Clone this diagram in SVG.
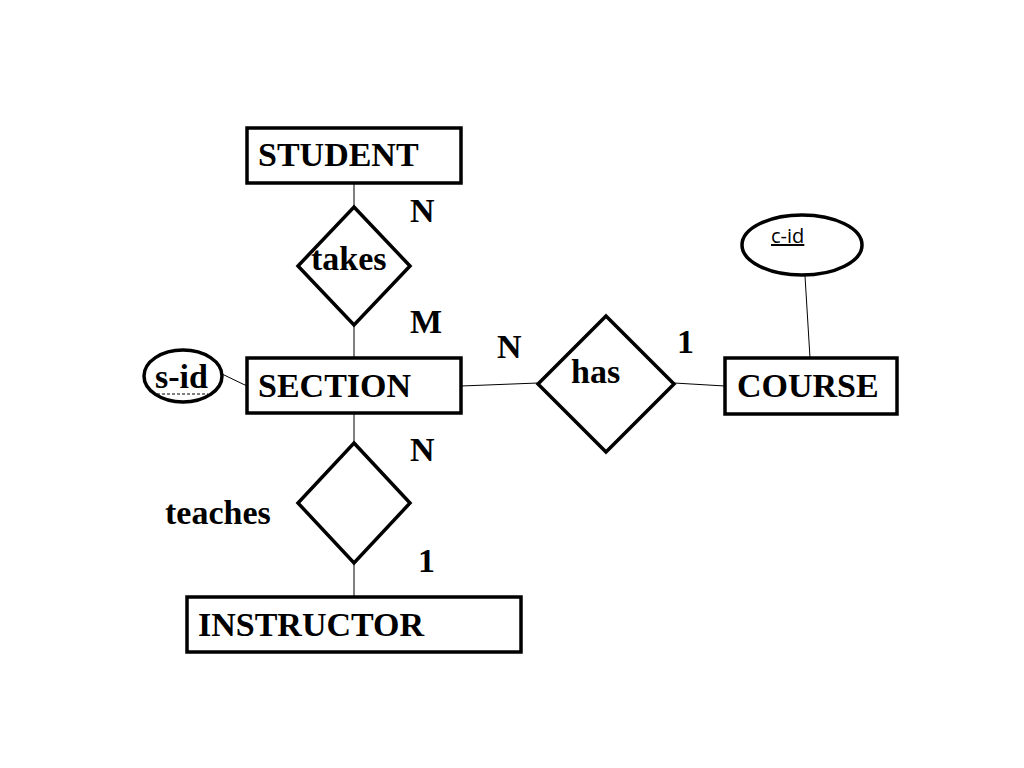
<svg xmlns="http://www.w3.org/2000/svg" width="1024" height="768" viewBox="0 0 1024 768">
<style>
.shape{fill:#fff;stroke:#000;stroke-width:3.5}
.conn{stroke:#000;stroke-width:1;fill:none}
.t{font-family:"Liberation Serif","Times New Roman",serif;font-weight:bold;font-size:34px;fill:#000}
.s{font-family:"Open Sans","Liberation Sans",sans-serif;font-size:20px;fill:#000}
</style>
<rect width="1024" height="768" fill="#fff"/>
<g id="connectors">
<line class="conn" x1="354" y1="183" x2="354" y2="207"/>
<line class="conn" x1="354" y1="325" x2="354" y2="358"/>
<line class="conn" x1="354" y1="413" x2="354" y2="443"/>
<line class="conn" x1="354" y1="563" x2="354" y2="597"/>
<line class="conn" x1="222" y1="374" x2="247" y2="386"/>
<line class="conn" x1="461" y1="386" x2="538" y2="383"/>
<line class="conn" x1="674" y1="383" x2="725" y2="386"/>
<line class="conn" x1="805" y1="276" x2="810" y2="358"/>
</g>
<g id="student">
<rect class="shape" x="247" y="128" width="214" height="55"/>
<text class="t" x="258" y="166">STUDENT</text>
</g>
<g id="takes">
<polygon class="shape" points="354,207 410,266 354,325 298,266"/>
<text class="t" x="311" y="270">takes</text>
</g>
<g id="section">
<rect class="shape" x="247" y="358" width="214" height="55"/>
<text class="t" x="258" y="397">SECTION</text>
</g>
<g id="s-id">
<ellipse class="shape" cx="183" cy="376" rx="39" ry="26"/>
<text class="t" x="155" y="388">s-id</text>
<line x1="157" y1="394" x2="208" y2="394" stroke="#000" stroke-width="1.2" stroke-dasharray="3,2"/>
</g>
<g id="has">
<polygon class="shape" points="606,316 674,384 606,452 538,384"/>
<text class="t" x="571" y="383">has</text>
</g>
<g id="course">
<rect class="shape" x="725" y="358" width="172" height="56"/>
<text class="t" x="737" y="397">COURSE</text>
</g>
<g id="c-id">
<ellipse class="shape" cx="802" cy="245" rx="60" ry="30"/>
<text class="s" x="771" y="243" text-decoration="underline">c-id</text>
</g>
<g id="teaches">
<polygon class="shape" points="354,443 410,503 354,563 298,503"/>
<text class="t" x="165" y="524">teaches</text>
</g>
<g id="instructor">
<rect class="shape" x="187" y="597" width="334" height="55"/>
<text class="t" x="198" y="636">INSTRUCTOR</text>
</g>
<g id="labels">
<text class="t" x="410" y="222">N</text>
<text class="t" x="410" y="333">M</text>
<text class="t" x="497" y="358">N</text>
<text class="t" x="677" y="353">1</text>
<text class="t" x="410" y="461">N</text>
<text class="t" x="418" y="572">1</text>
</g>
</svg>
